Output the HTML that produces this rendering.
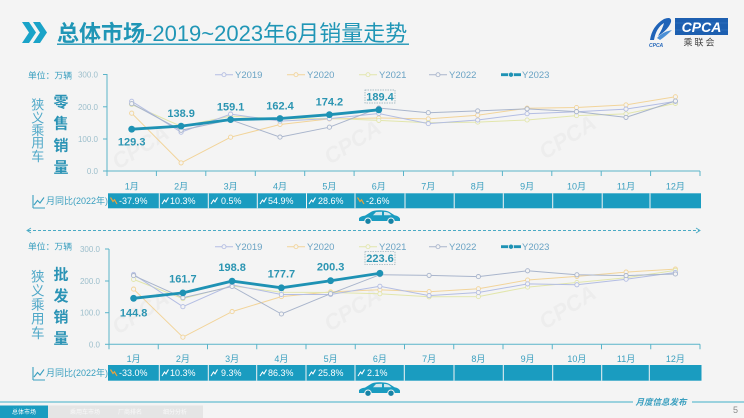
<!DOCTYPE html>
<html><head><meta charset="utf-8">
<style>
html,body{margin:0;padding:0;background:#f4f4f4;}
body{width:744px;height:418px;overflow:hidden;}
svg{display:block;font-family:"Liberation Sans","Noto Sans CJK SC",sans-serif;}
</style></head>
<body>
<svg width="744" height="418" viewBox="0 0 744 418" xmlns="http://www.w3.org/2000/svg">
<defs>
<marker id="m19" markerUnits="userSpaceOnUse" markerWidth="8" markerHeight="8" refX="4" refY="4"><circle cx="4" cy="4" r="2.1" fill="#f4f4f4" stroke="#b3bde3" stroke-width="0.9"/></marker>
<marker id="m20" markerUnits="userSpaceOnUse" markerWidth="8" markerHeight="8" refX="4" refY="4"><circle cx="4" cy="4" r="2.1" fill="#f4f4f4" stroke="#f2d49a" stroke-width="0.9"/></marker>
<marker id="m21" markerUnits="userSpaceOnUse" markerWidth="8" markerHeight="8" refX="4" refY="4"><circle cx="4" cy="4" r="2.1" fill="#f4f4f4" stroke="#e2e6ac" stroke-width="0.9"/></marker>
<marker id="m22" markerUnits="userSpaceOnUse" markerWidth="8" markerHeight="8" refX="4" refY="4"><circle cx="4" cy="4" r="2.1" fill="#f4f4f4" stroke="#a9b5cc" stroke-width="0.9"/></marker>
<marker id="m23" markerUnits="userSpaceOnUse" markerWidth="10" markerHeight="10" refX="5" refY="5"><circle cx="5" cy="5" r="3.4" fill="#1e92b4"/></marker>
<g id="car">
<path d="M1,11 L1,8.2 Q2,6.3 7,5.6 L13.5,1.6 Q16.5,0 23,0.3 Q29,0.6 31,1.8 L36.5,5.2 Q41,6 42,8.6 L42,11 Z" fill="#1a9cc0"/>
<path d="M15,5.2 L18,2 L24,1.8 L24,5.2 Z M26,5.2 L26,1.9 Q29.5,2.1 31,3 L33.5,5.2 Z" fill="#f4f4f4" opacity="0.85"/>
<circle cx="10" cy="11.2" r="3.2" fill="#1683a6" stroke="#f4f4f4" stroke-width="1"/>
<circle cx="33" cy="11.2" r="3.2" fill="#1683a6" stroke="#f4f4f4" stroke-width="1"/>
</g>
</defs>

<!-- watermarks -->
<g fill="#ececec" font-weight="bold" font-size="22" font-style="italic" opacity="0.8">
<text x="0" y="0" transform="translate(118,170) rotate(-32)">CPCA</text>
<text x="0" y="0" transform="translate(330,165) rotate(-32)">CPCA</text>
<text x="0" y="0" transform="translate(545,160) rotate(-32)">CPCA</text>
<text x="0" y="0" transform="translate(118,335) rotate(-32)">CPCA</text>
<text x="0" y="0" transform="translate(330,332) rotate(-32)">CPCA</text>
<text x="0" y="0" transform="translate(545,330) rotate(-32)">CPCA</text>
</g>

<!-- title -->
<path d="M22,22 L29,22 L36,32.5 L29,43 L22,43 L29,32.5 Z" fill="#1aa3c8"/>
<path d="M33,22 L40,22 L47,32.5 L40,43 L33,43 L40,32.5 Z" fill="#1aa3c8"/>
<text x="57" y="41" font-size="22" fill="#2096b6"><tspan font-weight="bold">总体市场</tspan>-2019~2023年6月销量走势</text>
<rect x="57" y="43.5" width="352" height="1.4" fill="#2096b6"/>

<!-- logo -->
<path d="M650,40 Q652,26 664,19 Q672,16 671,22 Q668,30 658,36 Q663,28 664,23 Q656,28 654,40 Z" fill="#1f63b8"/>
<path d="M657,38 Q662,32 672,30 Q666,36 660,40 Z" fill="#4b8fd6"/>
<text x="649" y="47" font-size="5" fill="#1f63b8" font-style="italic" font-weight="bold">CPCA</text>
<rect x="675" y="18" width="53" height="17" fill="#1d5fb0"/>
<line x1="675" y1="23" x2="728" y2="23" stroke="#3b7dc8" stroke-width="0.6"/>
<line x1="675" y1="30" x2="728" y2="30" stroke="#3b7dc8" stroke-width="0.6"/>
<text x="701.5" y="32" font-size="14" font-weight="bold" font-style="italic" fill="#ffffff" text-anchor="middle">CPCA</text>
<text x="700" y="45.5" font-size="9" fill="#444" text-anchor="middle" letter-spacing="2">乘联会</text>

<!-- ========== TOP CHART ========== -->
<text x="28" y="78.5" font-size="8.8" fill="#3a9fbf">单位：万辆</text>
<g font-size="13" fill="#4fa8c8" text-anchor="middle">
<text x="37.7" y="109.5">狭</text><text x="37.7" y="122.3">义</text><text x="37.7" y="135">乘</text><text x="37.7" y="147.5">用</text><text x="37.7" y="161">车</text>
</g>
<g font-size="15" font-weight="bold" fill="#2a93b5" text-anchor="middle">
<text x="61" y="107">零</text><text x="61" y="128.5">售</text><text x="61" y="150.5">销</text><text x="61" y="172.5">量</text>
</g>
<g font-size="8" fill="#9dbfcc" text-anchor="end">
<text x="98" y="77.5">300.0</text><text x="98" y="109.8">200.0</text><text x="98" y="142">100.0</text><text x="98" y="174">0.0</text>
</g>
<g stroke="#5ab4c9" stroke-width="1" fill="none">
<line x1="107" y1="74" x2="107" y2="171"/>
<line x1="107" y1="171" x2="700" y2="171"/>
<line x1="103" y1="74.5" x2="107" y2="74.5"/><line x1="103" y1="106.8" x2="107" y2="106.8"/><line x1="103" y1="139" x2="107" y2="139"/><line x1="103" y1="171" x2="107" y2="171"/>
<path d="M107,171v5 M156.4,171v5 M205.8,171v5 M255.3,171v5 M304.7,171v5 M354.1,171v5 M403.5,171v5 M453,171v5 M502.4,171v5 M551.8,171v5 M601.2,171v5 M650.6,171v5 M700,171v5"/>
</g>
<!-- legend top -->
<g font-size="9.5" fill="#6aa3c4">
<line x1="215" y1="74.7" x2="233" y2="74.7" stroke="#b3bde3" stroke-width="1"/><circle cx="224" cy="74.7" r="2" fill="#f4f4f4" stroke="#b3bde3" stroke-width="0.9"/><text x="235" y="78">Y2019</text>
<line x1="287" y1="74.7" x2="305" y2="74.7" stroke="#f2d49a" stroke-width="1"/><circle cx="296" cy="74.7" r="2" fill="#f4f4f4" stroke="#f2d49a" stroke-width="0.9"/><text x="307" y="78">Y2020</text>
<line x1="359" y1="74.7" x2="377" y2="74.7" stroke="#e2e6ac" stroke-width="1"/><circle cx="368" cy="74.7" r="2" fill="#f4f4f4" stroke="#e2e6ac" stroke-width="0.9"/><text x="379" y="78">Y2021</text>
<line x1="429" y1="74.7" x2="447" y2="74.7" stroke="#a9b5cc" stroke-width="1"/><circle cx="438" cy="74.7" r="2" fill="#f4f4f4" stroke="#a9b5cc" stroke-width="0.9"/><text x="449" y="78">Y2022</text>
<line x1="501" y1="74.7" x2="521" y2="74.7" stroke="#1e92b4" stroke-width="2.8"/><circle cx="511" cy="74.7" r="2.6" fill="#1e92b4" stroke="#f4f4f4" stroke-width="0.8"/><text x="522" y="78">Y2023</text>
</g>
<!-- series top -->
<g fill="none" stroke-width="1">
<polyline stroke="#f2d49a" marker-start="url(#m20)" marker-mid="url(#m20)" marker-end="url(#m20)" points="131.7,113.2 181.1,162.9 230.6,137.2 280,124.5 329.4,118.9 378.8,118 428.3,118.9 477.7,115.2 527.1,108.2 576.5,107.5 626,104.9 675.4,96.8"/>
<polyline stroke="#e2e6ac" marker-start="url(#m21)" marker-mid="url(#m21)" marker-end="url(#m21)" points="131.7,104.5 181.1,126.3 230.6,116.1 280,118.9 329.4,118.4 378.8,120.4 428.3,122.7 477.7,122.1 527.1,120 576.5,115.6 626,113.9 675.4,103.4"/>
<polyline stroke="#b3bde3" marker-start="url(#m19)" marker-mid="url(#m19)" marker-end="url(#m19)" points="131.7,101.3 181.1,132.2 230.6,114.1 280,121.1 329.4,118.6 378.8,113.5 428.3,123.6 477.7,120 527.1,113.7 576.5,111.8 626,109.1 675.4,101.4"/>
<polyline stroke="#a9b5cc" marker-start="url(#m22)" marker-mid="url(#m22)" marker-end="url(#m22)" points="131.7,103.7 181.1,130.3 230.6,119.8 280,137.1 329.4,127.2 378.8,108.1 428.3,112.7 477.7,110.9 527.1,108.9 576.5,111.6 626,117.4 675.4,101"/>
<polyline stroke="#1e92b4" stroke-width="2.8" marker-start="url(#m23)" marker-mid="url(#m23)" marker-end="url(#m23)" points="131.7,129.2 181.1,126.1 230.6,119.6 280,118.5 329.4,114.7 378.8,109.8"/>
</g>
<g font-size="11" font-weight="bold" fill="#2b95b2" text-anchor="middle">
<text x="131.7" y="145.5">129.3</text>
<text x="181.1" y="117">138.9</text>
<text x="230.6" y="110.5">159.1</text>
<text x="280" y="109.5">162.4</text>
<text x="329.4" y="105.7">174.2</text>
<rect x="365" y="90" width="30" height="13" fill="#f4f4f4" stroke="#8fa9b3" stroke-width="0.7" stroke-dasharray="1.5,1"/>
<text x="380" y="100.5">189.4</text>
</g>
<!-- months top -->
<g font-size="9" fill="#3a9fbf" text-anchor="middle">
<text x="131.7" y="189.5">1月</text><text x="181.1" y="189.5">2月</text><text x="230.6" y="189.5">3月</text><text x="280" y="189.5">4月</text><text x="329.4" y="189.5">5月</text><text x="378.8" y="189.5">6月</text><text x="428.3" y="189.5">7月</text><text x="477.7" y="189.5">8月</text><text x="527.1" y="189.5">9月</text><text x="576.5" y="189.5">10月</text><text x="626" y="189.5">11月</text><text x="675.4" y="189.5">12月</text>
</g>
<!-- yoy top -->
<path d="M33,208 L33,195 M33,208 L45,208 M34,205 L37.5,200.5 L40,203 L44,197.5" stroke="#3a9fbf" stroke-width="1.1" fill="none"/>
<text x="46" y="204.2" font-size="9" fill="#3a9fbf">月同比(2022年)</text>
<rect x="108" y="193.3" width="593" height="15" fill="#1a9cc0"/>
<g stroke="#f4f4f4" stroke-width="1">
<path d="M159.3,193.3v15 M208.3,193.3v15 M257.3,193.3v15 M306.5,193.3v15 M355,193.3v15 M405,193.3v15 M454.2,193.3v15 M503.3,193.3v15 M552.7,193.3v15 M602.2,193.3v15 M650,193.3v15"/>
</g>
<g font-size="9" fill="#ffffff">
<path d="M110.5,197.5 L113,201.5 L114.5,199.8 L117,204" stroke="#e9a23b" stroke-width="1.2" fill="none"/>
<text x="119" y="204">-37.9%</text>
<path d="M162,204 L164.5,200 L166,201.8 L168.5,197.5" stroke="#fff" stroke-width="1.1" fill="none"/>
<text x="170" y="204">10.3%</text>
<path d="M211,204 L213.5,200 L215,201.8 L217.5,197.5" stroke="#fff" stroke-width="1.1" fill="none"/>
<text x="221" y="204">0.5%</text>
<path d="M260,204 L262.5,200 L264,201.8 L266.5,197.5" stroke="#fff" stroke-width="1.1" fill="none"/>
<text x="268" y="204">54.9%</text>
<path d="M309,204 L311.5,200 L313,201.8 L315.5,197.5" stroke="#fff" stroke-width="1.1" fill="none"/>
<text x="318" y="204">28.6%</text>
<path d="M357.5,197.5 L360,201.5 L361.5,199.8 L364,204" stroke="#e9a23b" stroke-width="1.2" fill="none"/>
<text x="366" y="204">-2.6%</text>
</g>
<use href="#car" x="358" y="210"/>

<!-- divider -->
<line x1="28" y1="230.5" x2="699" y2="230.5" stroke="#4aaac4" stroke-width="0.9" stroke-dasharray="3,2"/>
<path d="M31,228 L27,230.5 L31,233" stroke="#4aaac4" stroke-width="0.9" fill="none"/>
<path d="M696,228 L700,230.5 L696,233" stroke="#4aaac4" stroke-width="0.9" fill="none"/>

<!-- ========== BOTTOM CHART ========== -->
<text x="28" y="249.5" font-size="8.8" fill="#3a9fbf">单位：万辆</text>
<g font-size="13.5" fill="#4fa8c8" text-anchor="middle">
<text x="37.7" y="281.5">狭</text><text x="37.7" y="295.5">义</text><text x="37.7" y="309.5">乘</text><text x="37.7" y="323.5">用</text><text x="37.7" y="338">车</text>
</g>
<g font-size="15" font-weight="bold" fill="#2a93b5" text-anchor="middle">
<text x="61" y="279.5">批</text><text x="61" y="301">发</text><text x="61" y="322">销</text><text x="61" y="343.5">量</text>
</g>
<g font-size="8" fill="#9dbfcc" text-anchor="end">
<text x="100" y="252">300.0</text><text x="100" y="284">200.0</text><text x="100" y="315.7">100.0</text><text x="100" y="347.3">0.0</text>
</g>
<g stroke="#5ab4c9" stroke-width="1" fill="none">
<line x1="109" y1="249" x2="109" y2="344.3"/>
<line x1="109" y1="344.3" x2="700" y2="344.3"/>
<line x1="105" y1="249" x2="109" y2="249"/><line x1="105" y1="281" x2="109" y2="281"/><line x1="105" y1="312.7" x2="109" y2="312.7"/><line x1="105" y1="344.3" x2="109" y2="344.3"/>
<path d="M109,344.3v5 M158.25,344.3v5 M207.5,344.3v5 M256.75,344.3v5 M306,344.3v5 M355.25,344.3v5 M404.5,344.3v5 M453.75,344.3v5 M503,344.3v5 M552.25,344.3v5 M601.5,344.3v5 M650.75,344.3v5 M700,344.3v5"/>
</g>
<!-- legend bottom -->
<g font-size="9.5" fill="#6aa3c4">
<line x1="215" y1="246.7" x2="233" y2="246.7" stroke="#b3bde3" stroke-width="1"/><circle cx="224" cy="246.7" r="2" fill="#f4f4f4" stroke="#b3bde3" stroke-width="0.9"/><text x="235" y="250">Y2019</text>
<line x1="287" y1="246.7" x2="305" y2="246.7" stroke="#f2d49a" stroke-width="1"/><circle cx="296" cy="246.7" r="2" fill="#f4f4f4" stroke="#f2d49a" stroke-width="0.9"/><text x="307" y="250">Y2020</text>
<line x1="359" y1="246.7" x2="377" y2="246.7" stroke="#e2e6ac" stroke-width="1"/><circle cx="368" cy="246.7" r="2" fill="#f4f4f4" stroke="#e2e6ac" stroke-width="0.9"/><text x="379" y="250">Y2021</text>
<line x1="429" y1="246.7" x2="447" y2="246.7" stroke="#a9b5cc" stroke-width="1"/><circle cx="438" cy="246.7" r="2" fill="#f4f4f4" stroke="#a9b5cc" stroke-width="0.9"/><text x="449" y="250">Y2022</text>
<line x1="501" y1="246.7" x2="521" y2="246.7" stroke="#1e92b4" stroke-width="2.8"/><circle cx="511" cy="246.7" r="2.6" fill="#1e92b4" stroke="#f4f4f4" stroke-width="0.8"/><text x="522" y="250">Y2023</text>
</g>
<g fill="none" stroke-width="1">
<polyline stroke="#f2d49a" marker-start="url(#m20)" marker-mid="url(#m20)" marker-end="url(#m20)" points="133.6,289.1 182.9,337.2 232.1,311.6 281.4,296.6 330.6,291.9 379.9,289.8 429.1,291.7 478.4,288.8 527.6,280 576.9,276.4 626.1,272.1 675.4,269.1"/>
<polyline stroke="#e2e6ac" marker-start="url(#m21)" marker-mid="url(#m21)" marker-end="url(#m21)" points="133.6,279.4 182.9,298.6 232.1,286 281.4,292.3 330.6,292.5 379.9,293.8 429.1,296.8 478.4,296.6 527.6,287.1 576.9,282.5 626.1,277.7 675.4,270.4"/>
<polyline stroke="#b3bde3" marker-start="url(#m19)" marker-mid="url(#m19)" marker-end="url(#m19)" points="133.6,274.4 182.9,306.7 232.1,284.9 281.4,294.5 330.6,294.5 379.9,286.3 429.1,295.6 478.4,292.5 527.6,283.9 576.9,284.8 626.1,279.2 675.4,272.5"/>
<polyline stroke="#a9b5cc" marker-start="url(#m22)" marker-mid="url(#m22)" marker-end="url(#m22)" points="133.6,275.6 182.9,297.7 232.1,286.5 281.4,314 330.6,293.7 379.9,274.7 429.1,275.4 478.4,276.6 527.6,270.8 576.9,274.8 626.1,275.6 675.4,274"/>
<polyline stroke="#1e92b4" stroke-width="2.8" marker-start="url(#m23)" marker-mid="url(#m23)" marker-end="url(#m23)" points="133.6,298.3 182.9,292.9 232.1,281.1 281.4,287.8 330.6,280.7 379.9,273.3"/>
</g>
<g font-size="11" font-weight="bold" fill="#2b95b2" text-anchor="middle">
<text x="133.6" y="316.5">144.8</text>
<text x="182.9" y="282.5">161.7</text>
<text x="232.1" y="271">198.8</text>
<text x="281.4" y="277.5">177.7</text>
<text x="330.6" y="270.5">200.3</text>
<rect x="365" y="251.7" width="30" height="13" fill="#f4f4f4" stroke="#8fa9b3" stroke-width="0.7" stroke-dasharray="1.5,1"/>
<text x="380" y="262.2">223.6</text>
</g>
<g font-size="9" fill="#3a9fbf" text-anchor="middle">
<text x="133.6" y="362">1月</text><text x="182.9" y="362">2月</text><text x="232.1" y="362">3月</text><text x="281.4" y="362">4月</text><text x="330.6" y="362">5月</text><text x="379.9" y="362">6月</text><text x="429.1" y="362">7月</text><text x="478.4" y="362">8月</text><text x="527.6" y="362">9月</text><text x="576.9" y="362">10月</text><text x="626.1" y="362">11月</text><text x="675.4" y="362">12月</text>
</g>
<path d="M33,380 L33,367 M33,380 L45,380 M34,377 L37.5,372.5 L40,375 L44,369.5" stroke="#3a9fbf" stroke-width="1.1" fill="none"/>
<text x="46" y="376.2" font-size="9" fill="#3a9fbf">月同比(2022年)</text>
<rect x="108" y="365" width="593.5" height="15.7" fill="#1a9cc0"/>
<g stroke="#f4f4f4" stroke-width="1">
<path d="M159.3,365v15.7 M208.3,365v15.7 M256.7,365v15.7 M306,365v15.7 M355,365v15.7 M404.3,365v15.7 M454,365v15.7 M503.3,365v15.7 M552.7,365v15.7 M601.7,365v15.7 M649.3,365v15.7"/>
</g>
<g font-size="9" fill="#ffffff">
<path d="M110.5,369.5 L113,373.5 L114.5,371.8 L117,376" stroke="#e9a23b" stroke-width="1.2" fill="none"/>
<text x="119" y="376.2">-33.0%</text>
<path d="M162,376 L164.5,372 L166,373.8 L168.5,369.5" stroke="#fff" stroke-width="1.1" fill="none"/>
<text x="170" y="376.2">10.3%</text>
<path d="M211,376 L213.5,372 L215,373.8 L217.5,369.5" stroke="#fff" stroke-width="1.1" fill="none"/>
<text x="221" y="376.2">9.3%</text>
<path d="M260,376 L262.5,372 L264,373.8 L266.5,369.5" stroke="#fff" stroke-width="1.1" fill="none"/>
<text x="268" y="376.2">86.3%</text>
<path d="M309,376 L311.5,372 L313,373.8 L315.5,369.5" stroke="#fff" stroke-width="1.1" fill="none"/>
<text x="318" y="376.2">25.8%</text>
<path d="M358,376 L360.5,372 L362,373.8 L364.5,369.5" stroke="#fff" stroke-width="1.1" fill="none"/>
<text x="367" y="376.2">2.1%</text>
</g>
<use href="#car" x="358" y="382"/>

<!-- footer -->
<line x1="0" y1="402" x2="633" y2="402" stroke="#7cc7d6" stroke-width="1.4"/>
<line x1="692" y1="402" x2="744" y2="402" stroke="#7cc7d6" stroke-width="1.4"/>
<text x="661" y="405" font-size="8.5" font-style="italic" font-weight="bold" fill="#3a9fbf" text-anchor="middle">月度信息发布</text>
<text x="733" y="413" font-size="9" fill="#8a8a8a">5</text>
<rect x="0" y="405.5" width="48" height="12.5" fill="#1a9cc0"/>
<rect x="48" y="405.5" width="155" height="12.5" fill="#e5e5e5"/>
<g font-size="6" text-anchor="middle">
<text x="24" y="414" fill="#ffffff">总体市场</text>
<text x="85" y="414" fill="#f8f8f8">乘用车市场</text>
<text x="130" y="414" fill="#f8f8f8">厂商排名</text>
<text x="175" y="414" fill="#f8f8f8">细分分析</text>
</g>
</svg>
</body></html>
